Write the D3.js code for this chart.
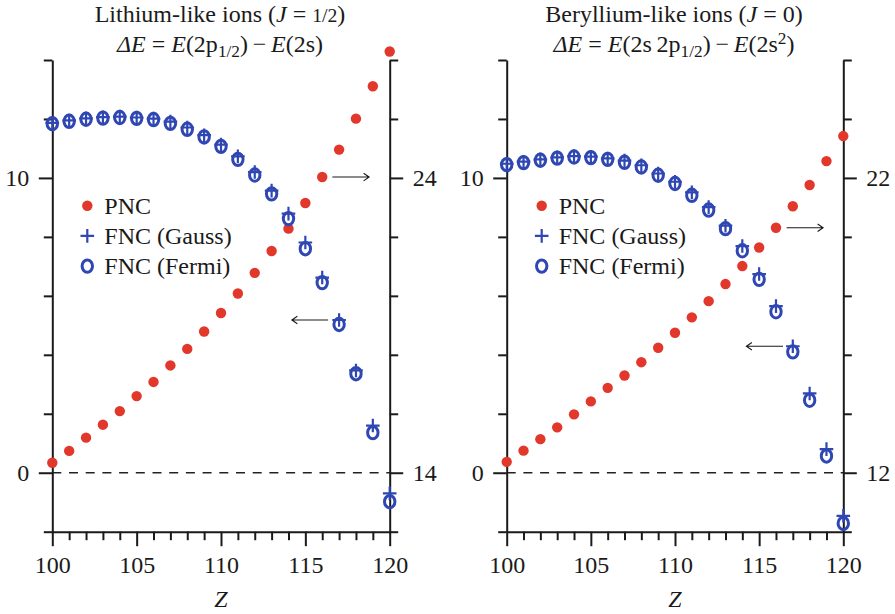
<!DOCTYPE html>
<html>
<head>
<meta charset="utf-8">
<script src="https://cdn.jsdelivr.net/npm/d3@7/dist/d3.min.js"></script>
<style>
  html, body { margin: 0; padding: 0; background: #fff; }
  svg { display: block; }
  text { font-family: "Liberation Serif", "Times New Roman", serif; fill: #1a1a1a; }
</style>
</head>
<body>
<svg id="chart" width="895" height="614"></svg>
<script>
// Nuclear charge Z
const Z = [100, 101, 102, 103, 104, 105, 106, 107, 108, 109, 110,
           111, 112, 113, 114, 115, 116, 117, 118, 119, 120];

// Lithium-like ions: PNC on the right axis, FNC on the left axis
const liPNC   = [14.34, 14.74, 15.19, 15.63, 16.09, 16.60, 17.08, 17.64, 18.20, 18.79, 19.42,
                 20.08, 20.78, 21.52, 22.28, 23.15, 24.03, 24.96, 26.01, 27.11, 28.29];
const liFermi = [11.84, 11.92, 11.99, 12.03, 12.05, 12.02, 11.98, 11.85, 11.65, 11.39, 11.07,
                 10.63, 10.10, 9.46, 8.62, 7.60, 6.45, 5.03, 3.36, 1.36, -0.98];
const liGauss = [11.87, 11.95, 12.02, 12.06, 12.08, 12.05, 12.01, 11.91, 11.71, 11.45, 11.13,
                 10.73, 10.20, 9.57, 8.79, 7.81, 6.62, 5.18, 3.47, 1.60, -0.70];

// Beryllium-like ions
const bePNC   = [12.37, 12.75, 13.14, 13.54, 13.98, 14.42, 14.88, 15.30, 15.75, 16.24, 16.75,
                 17.27, 17.82, 18.40, 19.01, 19.64, 20.31, 21.04, 21.76, 22.57, 23.42];
const beFermi = [10.45, 10.52, 10.60, 10.67, 10.71, 10.69, 10.63, 10.53, 10.37, 10.09, 9.81,
                 9.41, 8.91, 8.28, 7.53, 6.56, 5.46, 4.10, 2.46, 0.57, -1.72];
const beGauss = [10.48, 10.55, 10.63, 10.70, 10.74, 10.72, 10.66, 10.59, 10.43, 10.15, 9.87,
                 9.51, 9.01, 8.38, 7.69, 6.74, 5.65, 4.29, 2.69, 0.80, -1.46];

// Axis ticks
const xTicks = [100, 101, 102, 103, 104, 105, 106, 107, 108, 109, 110,
                111, 112, 113, 114, 115, 116, 117, 118, 119, 120];
const xLabels = [100, 105, 110, 115, 120];
const leftTicks = [-2, 0, 2, 4, 6, 8, 10, 12, 14];
const leftLabels = [0, 10];
const liRightTicks = [12, 14, 16, 18, 20, 22, 24, 26, 28];
const liRightLabels = [14, 24];
const beRightTicks = [10, 12, 14, 16, 18, 20, 22, 24, 26];
const beRightLabels = [12, 22];

const legendItems = ["PNC", "FNC (Gauss)", "FNC (Fermi)"];

const RED = "#e2372b";
const BLUE = "#2f47b2";
const INK = "#1a1a1a";
const FS = 24;

const svg = d3.select("#chart");

const plotTop = 60, plotBottom = 531.7;

function drawPanel(p) {
  const x = d3.scaleLinear().domain([100, 120]).range([p.x0, p.x1]);
  const yL = d3.scaleLinear().domain([-2, 14]).range([plotBottom, plotTop]);
  const yR = d3.scaleLinear().domain(p.rightDomain).range([plotBottom, plotTop]);
  const g = svg.append("g");

  // zero reference line
  g.append("line")
    .attr("x1", x(100)).attr("x2", x(120))
    .attr("y1", yL(0)).attr("y2", yL(0))
    .attr("stroke", "#222").attr("stroke-width", 1.6)
    .attr("stroke-dasharray", "9,7.7");

  // axes
  const styleAxis = sel => {
    sel.select(".domain").attr("stroke", INK).attr("stroke-width", 2);
    sel.selectAll(".tick line").attr("stroke", INK).attr("stroke-width", 2);
    sel.selectAll(".tick text").style("font-size", FS + "px").attr("fill", INK)
      .style("font-family", "'Liberation Serif', 'Times New Roman', serif");
  };

  const xa = g.append("g").attr("transform", `translate(0,${plotBottom})`)
    .call(d3.axisBottom(x).tickValues(xTicks).tickSizeOuter(0)
      .tickFormat(d => xLabels.includes(d) ? d : ""));
  xa.call(styleAxis);
  xa.selectAll(".tick").each(function(d) {
    const major = xLabels.includes(d);
    d3.select(this).select("line").attr("y2", major ? 14.5 : 8.5);
    d3.select(this).select("text").attr("y", 24);
  });

  const la = g.append("g").attr("transform", `translate(${p.x0},0)`)
    .call(d3.axisLeft(yL).tickValues(leftTicks).tickSizeOuter(0)
      .tickFormat(d => leftLabels.includes(d) ? d : ""));
  la.call(styleAxis);
  la.selectAll(".tick").each(function(d) {
    const major = leftLabels.includes(d);
    d3.select(this).select("line").attr("x2", major ? -13.5 : -8.5);
    d3.select(this).select("text").attr("x", -23);
  });

  const ra = g.append("g").attr("transform", `translate(${p.x1},0)`)
    .call(d3.axisRight(yR).tickValues(p.rightTicks).tickSizeOuter(0)
      .tickFormat(d => p.rightLabels.includes(d) ? d : ""));
  ra.call(styleAxis);
  ra.selectAll(".tick").each(function(d) {
    const major = p.rightLabels.includes(d);
    d3.select(this).select("line").attr("x2", major ? 13.5 : 8.5);
    d3.select(this).select("text").attr("x", 23);
  });

  // PNC dots (right axis)
  g.append("g").selectAll("circle").data(Z).join("circle")
    .attr("cx", d => x(d)).attr("cy", (d, i) => yR(p.pnc[i]))
    .attr("r", 5.2).attr("fill", RED);

  // FNC Fermi (open o)
  g.append("g").selectAll("ellipse").data(Z).join("ellipse")
    .attr("cx", d => x(d)).attr("cy", (d, i) => yL(p.fermi[i]))
    .attr("rx", 5.2).attr("ry", 6.2)
    .attr("fill", "none").attr("stroke", BLUE).attr("stroke-width", 3);

  // FNC Gauss (+)
  g.append("g").selectAll("path").data(Z).join("path")
    .attr("d", (d, i) => {
      const cx = x(d), cy = yL(p.gauss[i]), a = 6.8;
      return `M${cx - a},${cy}H${cx + a}M${cx},${cy - a}V${cy + a}`;
    })
    .attr("stroke", BLUE).attr("stroke-width", 2.2).attr("fill", "none");

  // arrows pointing at the axis each series belongs to
  p.arrows.forEach(a => {
    const xs = x(a.from), xe = x(a.to);
    const yy = a.axis === "right" ? yR(a.y) : yL(a.y);
    const dir = xe > xs ? 1 : -1;
    g.append("path")
      .attr("d", `M${xs},${yy}H${xe}M${xe - dir * 5.5},${yy - 3.8}L${xe},${yy}L${xe - dir * 5.5},${yy + 3.8}`)
      .attr("stroke", INK).attr("stroke-width", 1.1).attr("fill", "none");
  });

  // legend
  const lx = p.x0 + 35, ly0 = 205.7, dy = 30.2;
  const lg = g.append("g");
  lg.append("circle").attr("cx", lx).attr("cy", ly0).attr("r", 5.2).attr("fill", RED);
  lg.append("path")
    .attr("d", `M${lx - 6.8},${ly0 + dy}H${lx + 6.8}M${lx},${ly0 + dy - 6.8}V${ly0 + dy + 6.8}`)
    .attr("stroke", BLUE).attr("stroke-width", 2.2);
  lg.append("ellipse").attr("cx", lx).attr("cy", ly0 + 2 * dy)
    .attr("rx", 5.2).attr("ry", 6.2)
    .attr("fill", "none").attr("stroke", BLUE).attr("stroke-width", 3);
  legendItems.forEach((t, i) => {
    lg.append("text").attr("x", lx + 17).attr("y", ly0 + i * dy + 7.8)
      .style("font-size", FS + "px").text(t);
  });

  // axis title
  g.append("text").attr("x", (p.x0 + p.x1) / 2).attr("y", 607)
    .attr("text-anchor", "middle").style("font-size", FS + "px")
    .style("font-style", "italic").text("Z");

  // panel titles
  const cx = (p.x0 + p.x1) / 2 - 1;
  const t1 = g.append("text").attr("x", cx).attr("y", 22)
    .attr("text-anchor", "middle").style("font-size", FS + "px");
  p.title1.forEach(s => {
    const ts = t1.append("tspan").text(s.t);
    if (s.i) ts.style("font-style", "italic");
    if (s.small) ts.style("font-size", (FS * 0.82) + "px");
  });
  const t2 = g.append("text").attr("x", cx).attr("y", 52)
    .attr("text-anchor", "middle").style("font-size", FS + "px");
  p.title2.forEach(s => {
    const ts = t2.append("tspan").text(s.t);
    if (s.i) ts.style("font-style", "italic");
    if (s.sub) ts.style("font-size", (FS * 0.72) + "px").attr("dy", 5);
    if (s.after) ts.attr("dy", -5);
    if (s.sup) ts.style("font-size", (FS * 0.72) + "px").attr("dy", -8);
    if (s.afterSup) ts.attr("dy", 8);
  });
}

drawPanel({
  x0: 52.3, x1: 389.7,
  rightDomain: [12, 28], rightTicks: liRightTicks, rightLabels: liRightLabels,
  pnc: liPNC, fermi: liFermi, gauss: liGauss,
  arrows: [
    { from: 116.6, to: 118.78, y: liPNC[16], axis: "right" },
    { from: 116.35, to: 114.2, y: liGauss[17], axis: "left" }
  ],
  title1: [{ t: "Lithium-like ions (" }, { t: "J", i: true }, { t: " = " },
           { t: "1/2", small: true }, { t: ")" }],
  title2: [{ t: "ΔE", i: true }, { t: " = " }, { t: "E", i: true }, { t: "(2p" },
           { t: "1/2", sub: true }, { t: ")\u2009\u2212\u2009", after: true },
           { t: "E", i: true }, { t: "(2s)" }]
});

drawPanel({
  x0: 506.7, x1: 843.3,
  rightDomain: [10, 26], rightTicks: beRightTicks, rightLabels: beRightLabels,
  pnc: bePNC, fermi: beFermi, gauss: beGauss,
  arrows: [
    { from: 116.63, to: 118.8, y: bePNC[16], axis: "right" },
    { from: 116.42, to: 114.24, y: beGauss[17], axis: "left" }
  ],
  title1: [{ t: "Beryllium-like ions (" }, { t: "J", i: true }, { t: " = 0)" }],
  title2: [{ t: "ΔE", i: true }, { t: " = " }, { t: "E", i: true }, { t: "(2s\u20092p" },
           { t: "1/2", sub: true }, { t: ")\u2009\u2212\u2009", after: true },
           { t: "E", i: true }, { t: "(2s" }, { t: "2", sup: true },
           { t: ")", afterSup: true }]
});
</script>
</body>
</html>
